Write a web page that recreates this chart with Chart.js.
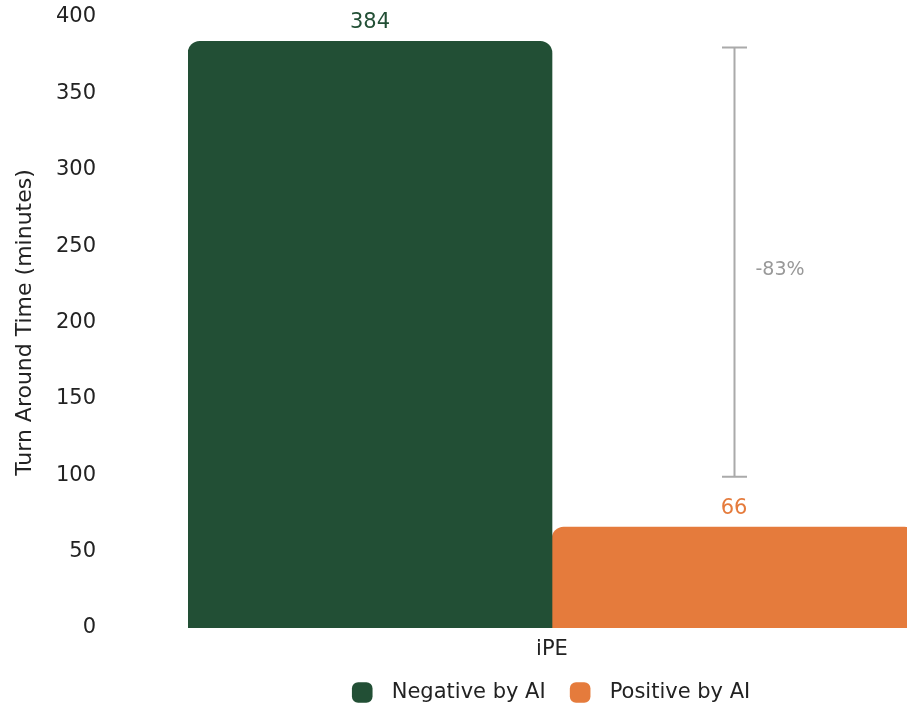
<!DOCTYPE html>
<html>
<head>
<meta charset="utf-8">
<script src="https://cdn.jsdelivr.net/npm/chart.js@4.4.1/dist/chart.umd.min.js"></script>
<style>
  html, body { margin: 0; padding: 0; background: #fff; overflow: hidden; }
  #wrap { width: 916px; height: 709px; position: relative; }
</style>
</head>
<body>
<div id="wrap"><canvas id="myChart"></canvas></div>
<script>
var labels = ["iPE"];
var seriesNames = ["Negative by AI", "Positive by AI"];
var negativeValues = [384];
var positiveValues = [66];
var barColors = ["#224f35", "#e57b3c"];

// bracket between the two bars, drawn over the second bar
var bracketFrom = [380];
var bracketTo = [99];
var bracketText = ["-83%"];

var fontFamily = "'DejaVu Sans', sans-serif";
Chart.defaults.font.family = fontFamily;
Chart.defaults.font.size = 21;
Chart.defaults.color = "#222";

var valueLabels = {
  id: "valueLabels",
  afterDatasetsDraw: function (chart) {
    var ctx = chart.ctx;
    ctx.save();
    ctx.font = "21px " + fontFamily;
    ctx.textAlign = "center";
    ctx.textBaseline = "bottom";
    chart.data.datasets.forEach(function (ds, i) {
      chart.getDatasetMeta(i).data.forEach(function (bar, j) {
        ctx.fillStyle = ds.backgroundColor;
        ctx.fillText(ds.data[j], bar.x, bar.y - 8);
      });
    });

    // bracket
    var yScale = chart.scales.y;
    var bar = chart.getDatasetMeta(1).data[0];
    var x = Math.round(bar.x) + 0.5;
    var y1 = yScale.getPixelForValue(bracketFrom[0]);
    var y2 = yScale.getPixelForValue(bracketTo[0]);
    ctx.strokeStyle = "#aaaaaa";
    ctx.lineWidth = 2;
    ctx.beginPath();
    ctx.moveTo(x, y1);
    ctx.lineTo(x, y2);
    ctx.moveTo(x - 12.5, y1);
    ctx.lineTo(x + 12.5, y1);
    ctx.moveTo(x - 12.5, y2);
    ctx.lineTo(x + 12.5, y2);
    ctx.stroke();
    ctx.fillStyle = "#999999";
    ctx.font = "19px " + fontFamily;
    ctx.textAlign = "left";
    ctx.textBaseline = "middle";
    ctx.fillText(bracketText[0], x + 21, (y1 + y2) / 2 + 8);
    ctx.restore();
  }
};

new Chart(document.getElementById("myChart"), {
  type: "bar",
  data: {
    labels: labels,
    datasets: [
      {
        label: seriesNames[0],
        data: negativeValues,
        backgroundColor: barColors[0],
        borderRadius: { topLeft: 12, topRight: 12 },
        borderSkipped: "start"
      },
      {
        label: seriesNames[1],
        data: positiveValues,
        backgroundColor: barColors[1],
        borderRadius: { topLeft: 12, topRight: 12 },
        borderSkipped: "start"
      }
    ]
  },
  options: {
    responsive: true,
    maintainAspectRatio: false,
    animation: false,
    layout: { padding: { top: 17, left: 0, right: 0, bottom: -4 } },
    datasets: { bar: { barPercentage: 1, categoryPercentage: 1 } },
    plugins: {
      tooltip: { enabled: false },
      legend: {
        position: "bottom",
        fullSize: false,
        labels: {
          usePointStyle: true,
          pointStyle: "rectRounded",
          boxWidth: 17,
          boxHeight: 17,
          padding: 26,
          font: { size: 21 },
          color: "#222",
          generateLabels: function (chart) {
            var items = Chart.defaults.plugins.legend.labels.generateLabels(chart);
            items.forEach(function (it) { it.text = "\u2002" + it.text; });
            return items;
          }
        }
      }
    },
    scales: {
      x: {
        grid: { display: false },
        border: { display: false },
        ticks: { padding: 1, font: { size: 21 }, color: "#222" },
        afterFit: function (scale) { scale.height = 28; }
      },
      y: {
        min: 0,
        max: 400,
        grid: { display: false, drawTicks: false },
        border: { display: false },
        ticks: { stepSize: 50, padding: 92, font: { size: 21 }, color: "#222" },
        title: {
          display: true,
          text: "Turn Around Time (minutes)",
          font: { size: 22 },
          color: "#222",
          padding: { top: 12, bottom: 0 }
        },
        afterFit: function (scale) {
          scale.width = 188;
          scale.paddingTop = 0;
          scale.paddingBottom = 0;
        }
      }
    }
  },
  plugins: [valueLabels]
});
</script>
</body>
</html>
